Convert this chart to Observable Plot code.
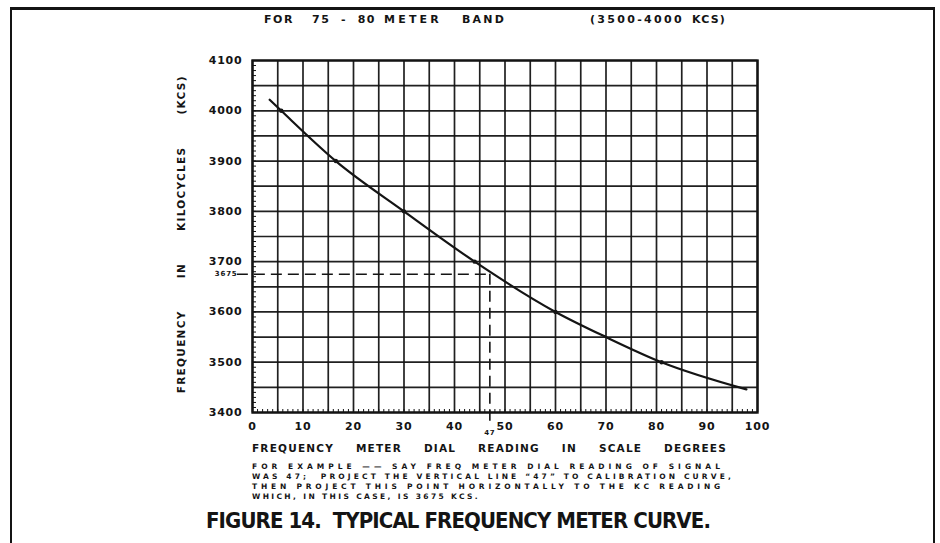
<!DOCTYPE html>
<html><head><meta charset="utf-8">
<script src="https://cdn.jsdelivr.net/npm/d3@7"></script>
<script src="https://cdn.jsdelivr.net/npm/@observablehq/plot@0.6"></script>
<style>
body{margin:0;background:#fff;}
#wrap{position:relative;width:940px;height:543px;overflow:hidden;background:#fff;font-family:"DejaVu Sans",sans-serif;font-weight:bold;color:#141414;}
#wrap svg text{letter-spacing:0.8px;}
.t{position:absolute;white-space:pre;line-height:1;}
.b{position:absolute;background:#141414;}
</style></head><body><div id="wrap"></div>
<script>
// Calibration curve (dial reading in scale degrees -> frequency in kcs)
const dialReading  = [3.4, 5.7, 16.5, 30, 44, 60, 70, 81, 97.8];
const frequencyKcs = [4022, 4000, 3900, 3800, 3700, 3600, 3550, 3500, 3446];
// calibration dots
const dotDial = [5.7, 16.5, 30, 44, 60, 81];
const dotKcs  = [4000, 3900, 3800, 3700, 3600, 3500];
// axis ticks
const xTicks = [0, 10, 20, 30, 40, 50, 60, 70, 80, 90, 100];
const yTicks = [3400, 3500, 3600, 3700, 3800, 3900, 4000, 4100];
// worked example
const exampleDial = 47;
const exampleKcs = 3675;

const curve = dialReading.map((x, i) => ({x, y: frequencyKcs[i]}));
const dots = dotDial.map((x, i) => ({x, y: dotKcs[i]}));
const ink = "#141414";

const chart = Plot.plot({
  width: 940, height: 543,
  marginLeft: 252, marginRight: 183, marginTop: 60, marginBottom: 131,
  x: {domain: [0, 100]},
  y: {domain: [3400, 4100]},
  style: {fontFamily: "DejaVu Sans", fontWeight: "bold", fontSize: "11px", color: ink, background: "transparent"},
  marks: [
    Plot.gridX(d3.range(0, 101, 5), {stroke: ink, strokeOpacity: 0.95, strokeWidth: 1.7}),
    Plot.gridY(d3.range(3400, 4101, 50), {stroke: ink, strokeOpacity: 0.95, strokeWidth: 1.7}),
    Plot.axisY(d3.range(3400, 4101, 10), {tickSize: -4, text: null, stroke: ink, label: null}),
    Plot.axisX(d3.range(0, 101, 1), {tickSize: -3, text: null, stroke: ink, label: null}),
    Plot.axisY(yTicks, {tickSize: 0, tickPadding: 10, tickFormat: d => String(d), label: null, fontSize: 11, fontWeight: "bold"}),
    Plot.axisX(xTicks, {tickSize: 0, tickPadding: 10, tickFormat: d => String(d), label: null, fontSize: 11, fontWeight: "bold"}),
    Plot.ruleY([exampleKcs], {x1: -3, x2: exampleDial, stroke: ink, strokeWidth: 1.6, strokeDasharray: "11,6"}),
    Plot.ruleX([exampleDial], {y1: exampleKcs, y2: 3380, stroke: ink, strokeWidth: 1.6, strokeDasharray: "11,6"}),
    Plot.frame({stroke: ink, strokeWidth: 2.4}),
    Plot.line(curve, {x: "x", y: "y", curve: "monotone-x", stroke: ink, strokeWidth: 2.2}),
    Plot.dot(dots, {x: "x", y: "y", r: 2.2, fill: ink}),
    Plot.text([exampleKcs], {y: d => d, frameAnchor: "left", dx: -15, textAnchor: "end", text: d => String(d), fontSize: 7, fontWeight: "bold"}),
    Plot.text([exampleDial], {x: d => d, frameAnchor: "bottom", dy: 22, text: d => String(d), fontSize: 7, fontWeight: "bold"})
  ]
});
const wrap = document.getElementById("wrap");
chart.style.position = "absolute"; chart.style.left = "0"; chart.style.top = "0";
wrap.appendChild(chart);

// page border
function bar(l, t, w, h) { const d = document.createElement("div"); d.className = "b"; Object.assign(d.style, {left: l+"px", top: t+"px", width: w+"px", height: h+"px"}); wrap.appendChild(d); }
bar(10, 7, 925, 2.5);
bar(10, 7, 1.5, 540);
bar(933, 7, 2, 540);

// text placed to a target width: fit by word spacing ("words") or letter spacing
function label(txt, x, y, w, size, opts = {}) {
  const el = document.createElement("div");
  el.className = "t"; el.textContent = txt;
  el.style.fontSize = size + "px";
  if (opts.family) el.style.fontFamily = opts.family;
  if (opts.stretch) el.style.fontStretch = opts.stretch;
  if (opts.ls != null) el.style.letterSpacing = opts.ls + "px";
  wrap.appendChild(el);
  const nat = el.getBoundingClientRect().width;
  if (w) {
    if (opts.words) {
      const n = (txt.match(/ /g) || []).length;
      el.style.wordSpacing = ((w - nat) / n) + "px";
    } else {
      el.style.letterSpacing = ((w - nat) / txt.length) + "px";
    }
  }
  const r = el.getBoundingClientRect();
  const left = opts.align === "left" ? x : x - r.width / 2;
  el.style.left = left + "px";
  el.style.top = (y - r.height / 2) + "px";
  if (opts.rotate) el.style.transform = `rotate(${opts.rotate}deg)`;
}
label("FOR", 264, 19, 30, 11, {align: "left"});
label("75 - 80", 312, 19, 64, 11, {align: "left", words: true, ls: 1.5});
label("METER", 384, 19, 58, 11, {align: "left"});
label("BAND", 462, 19, 44, 11, {align: "left"});
label("(3500-4000", 590, 19, 94, 11, {align: "left"});
label("KCS)", 692, 19, 34, 11, {align: "left"});
label("FREQUENCY IN KILOCYCLES (KCS)", 181, 234, 318, 10.5, {rotate: -90, words: true, ls: 1.3});
label("FREQUENCY METER DIAL READING IN SCALE DEGREES", 252, 448, 475, 10.5, {align: "left", words: true, ls: 1.2});
label("FOR EXAMPLE \u2014\u2014 SAY FREQ METER DIAL READING OF SIGNAL", 252, 467, 472, 7.5, {align: "left"});
label("WAS 47;  PROJECT THE VERTICAL LINE \u201C47\u201D TO CALIBRATION CURVE,", 252, 477, 482, 7.5, {align: "left"});
label("THEN PROJECT THIS POINT HORIZONTALLY TO THE KC READING", 252, 487, 472, 7.5, {align: "left"});
label("WHICH, IN THIS CASE, IS 3675 KCS.", 252, 497, 228, 7.5, {align: "left"});
label("FIGURE 14.  TYPICAL FREQUENCY METER CURVE.", 206, 521, 504, 22, {align: "left", stretch: "condensed"});
</script>
</body></html>
